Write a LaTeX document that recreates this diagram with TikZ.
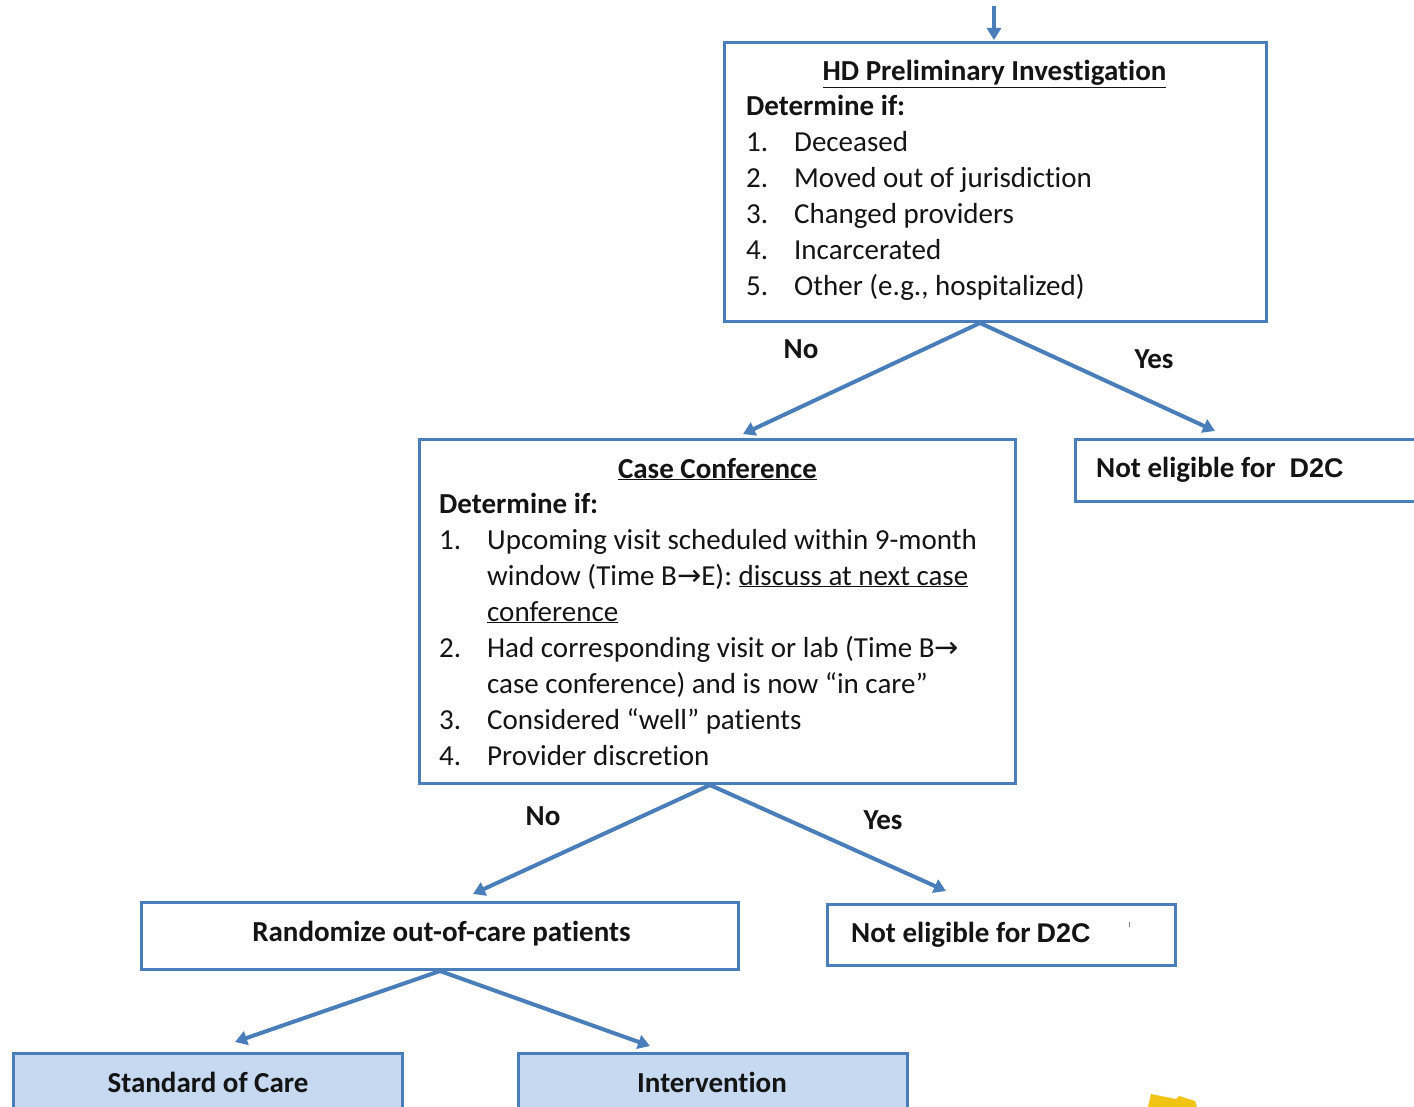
\documentclass[tikz,border=0pt]{standalone}
\usepackage{fontspec}
\setmainfont[Ligatures={NoCommon},RawFeature=-calt,RawFeature=-clig,RawFeature=-dlig]{Carlito}
\newfontfamily\arialfont{Liberation Sans}
\newfontfamily\arrowfont{DejaVu Sans}
\usetikzlibrary{arrows.meta}
\definecolor{boxblue}{RGB}{74,126,187}
\definecolor{fillblue}{RGB}{198,217,240}
\definecolor{txt}{RGB}{20,20,20}
\definecolor{gold}{RGB}{240,195,20}
\begin{document}
\begin{tikzpicture}[x=1pt,y=-1pt,
  box/.style={draw=boxblue,line width=3pt,inner sep=0pt,outer sep=0pt,fill=white},
  shadedbox/.style={box,fill=fillblue},
  conn/.style={draw=boxblue,line width=4pt,-{Triangle[length=12pt,width=14pt]}},
  lbl/.style={font=\fontsize{29}{36}\selectfont\bfseries,text=txt,inner sep=0pt},
  body/.style={font=\fontsize{29}{36}\selectfont,text=txt,inner sep=0pt,anchor=base west},
]
\useasboundingbox (0,0) rectangle (1414,1107);
\fill[white] (0,0) rectangle (1414,1107);

% boxes
\node[box,minimum width=542,minimum height=279] (b1) at (995.5,182) {};
\node[box,minimum width=596,minimum height=344] (b2) at (717.5,611.5) {};
\node[box,minimum width=350,minimum height=62] (b3) at (1250.5,470.5) {};
\node[box,minimum width=597,minimum height=67] (b4) at (440,936) {};
\node[box,minimum width=348,minimum height=61] (b5) at (1001.5,935) {};
\node[shadedbox,minimum width=389,minimum height=72] (b6) at (208,1089) {};
\node[shadedbox,minimum width=389,minimum height=72] (b7) at (713,1089) {};

% box 1 text
\node[lbl,anchor=base] (t1) at (994.5,81) {\underline{HD Preliminary Investigation}};
\node[body] (l1) at (746,116) {\begin{tabular}[t]{@{}p{48pt}@{}l@{}}
\multicolumn{2}{@{}l@{}}{\bfseries Determine if:}\\
1. & Deceased\\
2. & Moved out of jurisdiction\\
3. & Changed providers\\
4. & Incarcerated\\
5. & Other (e.g., hospitalized)
\end{tabular}};

% box 2 text
\node[lbl,anchor=base] (t2) at (717.5,478) {\underline{Case Conference}};
\node[body] (l2) at (439,513) {\begin{tabular}[t]{@{}p{48pt}@{}l@{}}
\multicolumn{2}{@{}l@{}}{\bfseries Determine if:}\\
1. & Upcoming visit scheduled within 9-month\\
 & window (Time B{\arrowfont →}E): \underline{discuss at next case}\\
 & \underline{conference}\\
2. & Had corresponding visit or lab (Time B{\arrowfont →}\\
 & case conference) and is now “in care”\\
3. & Considered “well” patients\\
4. & Provider discretion
\end{tabular}};

% other box texts
\node[lbl,anchor=base west] (t3) at (1096,477) {Not eligible for\hspace{14pt}{\arialfont\bfseries\fontsize{27}{30}\selectfont D2C}};
\node[lbl,anchor=base] (t4) at (441.5,941) {Randomize out-of-care patients};
\node[lbl,anchor=base west] (t5) at (851,942) {Not eligible for\hspace{6pt}{\arialfont\bfseries\fontsize{27}{30}\selectfont D2C}};
\node[lbl,anchor=base] (t6) at (208,1092) {Standard of Care};
\node[lbl,anchor=base] (t7) at (712,1092) {Intervention};

% connector points
\coordinate (top) at (994,6);
\coordinate (b1in) at (994,40);
\coordinate (b1out) at (980,323);
\coordinate (b2in) at (743,434);
\coordinate (b3in) at (1215,431);
\coordinate (b2out) at (710,785);
\coordinate (b4in) at (473,894);
\coordinate (b5in) at (946,891);
\coordinate (b4out) at (440,971);
\coordinate (b6in) at (235,1042);
\coordinate (b7in) at (650,1046);

\draw[conn] (top) -- (b1in);
\draw[conn] (b1out) -- (b2in);
\draw[conn] (b1out) -- (b3in);
\draw[conn] (b2out) -- (b4in);
\draw[conn] (b2out) -- (b5in);
\draw[conn] (b4out) -- (b6in);
\draw[conn] (b4out) -- (b7in);

% branch labels
\node[lbl] (no1) at (801,349) {No};
\node[lbl] (yes1) at (1154,359) {Yes};
\node[lbl] (no2) at (543,816) {No};
\node[lbl] (yes2) at (883,820) {Yes};

% stray marks
\draw[gray,line width=1pt] (1129,922) -- (1129,927);
\fill[gold] (1148,1107) -- (1151,1094) -- (1176,1099) -- (1179,1096) -- (1195,1101) -- (1197,1107) -- cycle;
\end{tikzpicture}
\end{document}
